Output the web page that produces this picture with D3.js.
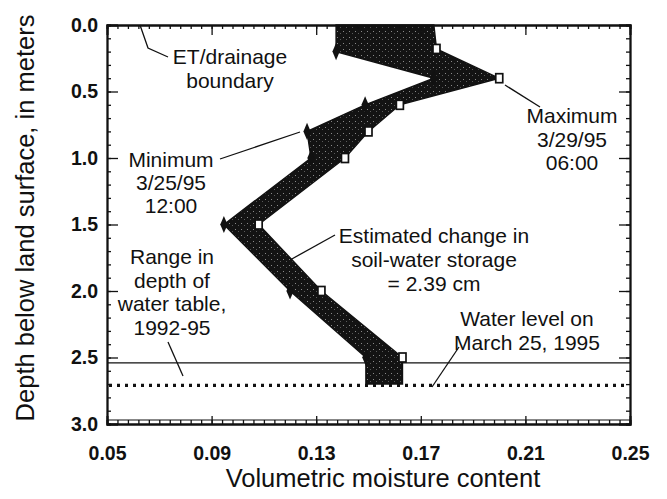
<!DOCTYPE html>
<html><head><meta charset="utf-8">
<script src="https://cdn.jsdelivr.net/npm/d3@7"></script>
<style>body{margin:0;background:#fff}svg{display:block}text{font-family:"Liberation Sans",Arial,sans-serif;fill:#111}</style>
</head><body><svg id="c" width="667" height="499"></svg>
<script>
// ---- data ----
const maxDepth = [0.0, 0.18, 0.4, 0.6, 0.8, 1.0, 1.5, 2.0, 2.5, 2.7];
const maxMoisture = [0.175, 0.176, 0.200, 0.162, 0.150, 0.141, 0.108, 0.132, 0.163, 0.163];
const minDepth = [0.0, 0.2, 0.4, 0.6, 0.8, 1.0, 1.5, 2.0, 2.5, 2.7];
const minMoisture = [0.1376, 0.1376, 0.175, 0.1487, 0.1265, 0.128, 0.0947, 0.120, 0.149, 0.149];
const markerIdx = [1, 2, 3, 4, 5, 6, 7, 8];
const xTicks = [0.05, 0.09, 0.13, 0.17, 0.21, 0.25];
const yTicks = [0.0, 0.5, 1.0, 1.5, 2.0, 2.5, 3.0];
const waterTableTop = 2.54;
const waterLevel = 2.71;

const svg = d3.select("#c");
const L = 107, R = 630, T = 25, B = 424;
const x = d3.scaleLinear([0.05, 0.25], [L, R]);
const y = d3.scaleLinear([0, 3], [T, B]);

// pattern
const defs = svg.append("defs");
const pat = defs.append("pattern").attr("id", "spk").attr("width", 6).attr("height", 6).attr("patternUnits", "userSpaceOnUse");
pat.append("rect").attr("width", 6).attr("height", 6).attr("fill", "#131313");
pat.append("rect").attr("x", 1).attr("y", 1).attr("width", 1).attr("height", 1).attr("fill", "#8a8a8a");
pat.append("rect").attr("x", 4).attr("y", 3).attr("width", 1).attr("height", 1).attr("fill", "#5a5a5a");

// water lines
svg.append("line").attr("x1", L).attr("x2", R).attr("y1", y(waterTableTop)).attr("y2", y(waterTableTop))
  .attr("stroke", "#111").attr("stroke-width", 1.3);

// band
const pts = maxDepth.map((d, i) => [x(maxMoisture[i]), y(d)])
  .concat(minDepth.map((d, i) => [x(minMoisture[i]), y(d)]).reverse());
svg.append("path").attr("d", d3.line()(pts) + "Z").attr("fill", "url(#spk)").attr("stroke", "#111").attr("stroke-width", 1.4);

svg.append("line").attr("x1", L + 2).attr("x2", R - 2).attr("y1", y(waterLevel)).attr("y2", y(waterLevel))
  .attr("stroke", "#111").attr("stroke-width", 3.2).attr("stroke-dasharray", "3,5");

// markers
const dia = d3.symbol().type(d3.symbolDiamond).size(64);
svg.append("g").selectAll("path").data(markerIdx).join("path")
  .attr("d", dia).attr("transform", i => `translate(${x(minMoisture[i])},${y(minDepth[i])}) scale(0.85,1.15)`)
  .attr("fill", "#111");
svg.append("g").selectAll("rect").data(markerIdx).join("rect")
  .attr("x", i => x(maxMoisture[i]) - 3.5).attr("y", i => y(maxDepth[i]) - 4.5)
  .attr("width", 7).attr("height", 9).attr("fill", "#fff").attr("stroke", "#111").attr("stroke-width", 1.7);

// axes
function styl(g) { g.select(".domain").attr("stroke", "#111").attr("stroke-width", 1.8); g.selectAll(".tick line").attr("stroke", "#111").attr("stroke-width", 1.3); }
const minorX = d3.range(0, 51).map(k => 0.05 + k * 0.004);
const minorY = d3.range(0, 31).map(k => k * 0.1);
const tickFont = g => g.selectAll("text").attr("font-size", 19.5).attr("font-weight", "bold").attr("font-family", "Liberation Sans, Arial").attr("fill", "#111");

svg.append("g").attr("transform", `translate(0,${B})`)
  .call(d3.axisBottom(x).tickValues(xTicks).tickSize(-8).tickPadding(22).tickFormat(d3.format(".2f")))
  .call(styl).call(tickFont);
svg.append("g").attr("transform", `translate(0,${B})`)
  .call(d3.axisBottom(x).tickValues(minorX).tickSize(-4).tickFormat("")).call(styl);
svg.append("line").attr("x1", L).attr("x2", R).attr("y1", B - 4).attr("y2", B - 4).attr("stroke", "#111").attr("stroke-width", 1.2);

svg.append("g").attr("transform", `translate(0,${T})`)
  .call(d3.axisTop(x).tickValues(xTicks).tickSize(-10).tickFormat("")).call(styl);
svg.append("g").attr("transform", `translate(0,${T})`)
  .call(d3.axisTop(x).tickValues(minorX).tickSize(-4).tickFormat("")).call(styl);

svg.append("g").attr("transform", `translate(${L},0)`)
  .call(d3.axisLeft(y).tickValues(yTicks).tickSize(-11).tickPadding(9).tickFormat(d3.format(".1f")))
  .call(styl).call(tickFont);
svg.append("g").attr("transform", `translate(${L},0)`)
  .call(d3.axisLeft(y).tickValues(minorY).tickSize(-4).tickFormat("")).call(styl);
svg.append("g").attr("transform", `translate(${R},0)`)
  .call(d3.axisRight(y).tickValues(yTicks).tickSize(-11).tickFormat("")).call(styl);
svg.append("g").attr("transform", `translate(${R},0)`)
  .call(d3.axisRight(y).tickValues(minorY).tickSize(-4).tickFormat("")).call(styl);

// titles
svg.append("text").attr("x", 383).attr("y", 487).attr("text-anchor", "middle").attr("font-size", 25.5)
  .text("Volumetric moisture content");
svg.append("text").attr("transform", `translate(34,218) rotate(-90)`).attr("text-anchor", "middle").attr("font-size", 25.5)
  .text("Depth below land surface, in meters");

// annotations
function note(lines, cx, y0, dy) {
  const t = svg.append("text").attr("text-anchor", "middle").attr("font-size", 21);
  lines.forEach((s, i) => t.append("tspan").attr("x", cx).attr("y", y0 + i * dy).text(s));
}
function leader(p) { svg.append("path").attr("d", d3.line()(p)).attr("fill", "none").attr("stroke", "#111").attr("stroke-width", 1.3); }

note(["ET/drainage", "boundary"], 230, 64, 24);
leader([[140, 25], [148, 48], [168, 57]]);
note(["Minimum", "3/25/95", "12:00"], 171, 167, 23);
leader([[220, 159], [300, 132]]);
note(["Maximum", "3/29/95", "06:00"], 572, 123, 23.5);
leader([[505, 85], [540, 107]]);
note(["Estimated change in", "soil-water storage", "= 2.39 cm"], 434, 243, 24);
leader([[335, 235], [290, 260]]);
note(["Range in", "depth of", "water table,", "1992-95"], 172, 264, 23.5);
leader([[168, 342], [183, 376]]);
note(["Water level on", "March 25, 1995"], 527, 326, 24);
leader([[459, 347], [432, 387]]);
</script></body></html>
